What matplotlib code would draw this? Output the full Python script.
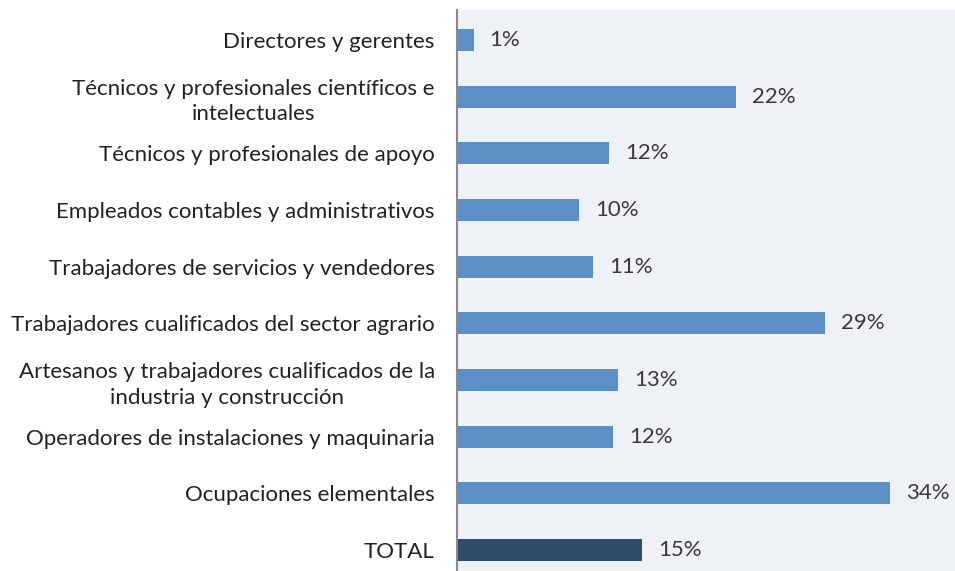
import matplotlib
matplotlib.use("Agg")
import matplotlib.pyplot as plt

categories = [
    "Directores y gerentes",
    "Técnicos y profesionales científicos e\nintelectuales",
    "Técnicos y profesionales de apoyo",
    "Empleados contables y administrativos",
    "Trabajadores de servicios y vendedores",
    "Trabajadores cualificados del sector agrario",
    "Artesanos y trabajadores cualificados de la\nindustria y construcción",
    "Operadores de instalaciones y maquinaria",
    "Ocupaciones elementales",
    "TOTAL",
]
values = [1.3, 22.0, 12.0, 9.6, 10.7, 29.0, 12.7, 12.3, 34.1, 14.6]
value_labels = ["1%", "22%", "12%", "10%", "11%", "29%", "13%", "12%", "34%", "15%"]

plt.rcParams['font.family'] = ['Lato', 'DejaVu Sans']

fig = plt.figure(figsize=(9.55, 5.71), dpi=100)
fig.patch.set_facecolor("white")
ax = fig.add_axes([457/955, 0, 1 - 457/955, 1 - 10/571])
ax.set_facecolor("#eef1f5")

colors = ["#5b8fc6"] * (len(values) - 1) + ["#2e4d6d"]
ypos = list(range(len(values)))
ax.barh(ypos, values, height=0.39, color=colors, edgecolor="none")

for y, v, lab in zip(ypos, values, value_labels):
    ax.annotate(lab, xy=(v, y), xytext=(11.5, 0), textcoords="offset points",
                va="center", ha="left", fontsize=16, color="#3a3a3a")

ax.set_ylim(9.37, -0.53)
ax.set_xlim(0, 39.2)
ax.set_yticks(ypos)
ax.set_yticklabels(categories, fontsize=16, color="#222222",
                   multialignment="center", linespacing=1.35)
ax.tick_params(axis="y", length=0, pad=16)
ax.set_xticks([])
for s in ["top", "right", "bottom"]:
    ax.spines[s].set_visible(False)
ax.spines["left"].set_color("#8a8a8a")
ax.spines["left"].set_linewidth(1.5)

fig.savefig("out.png", dpi=100, facecolor="white")
